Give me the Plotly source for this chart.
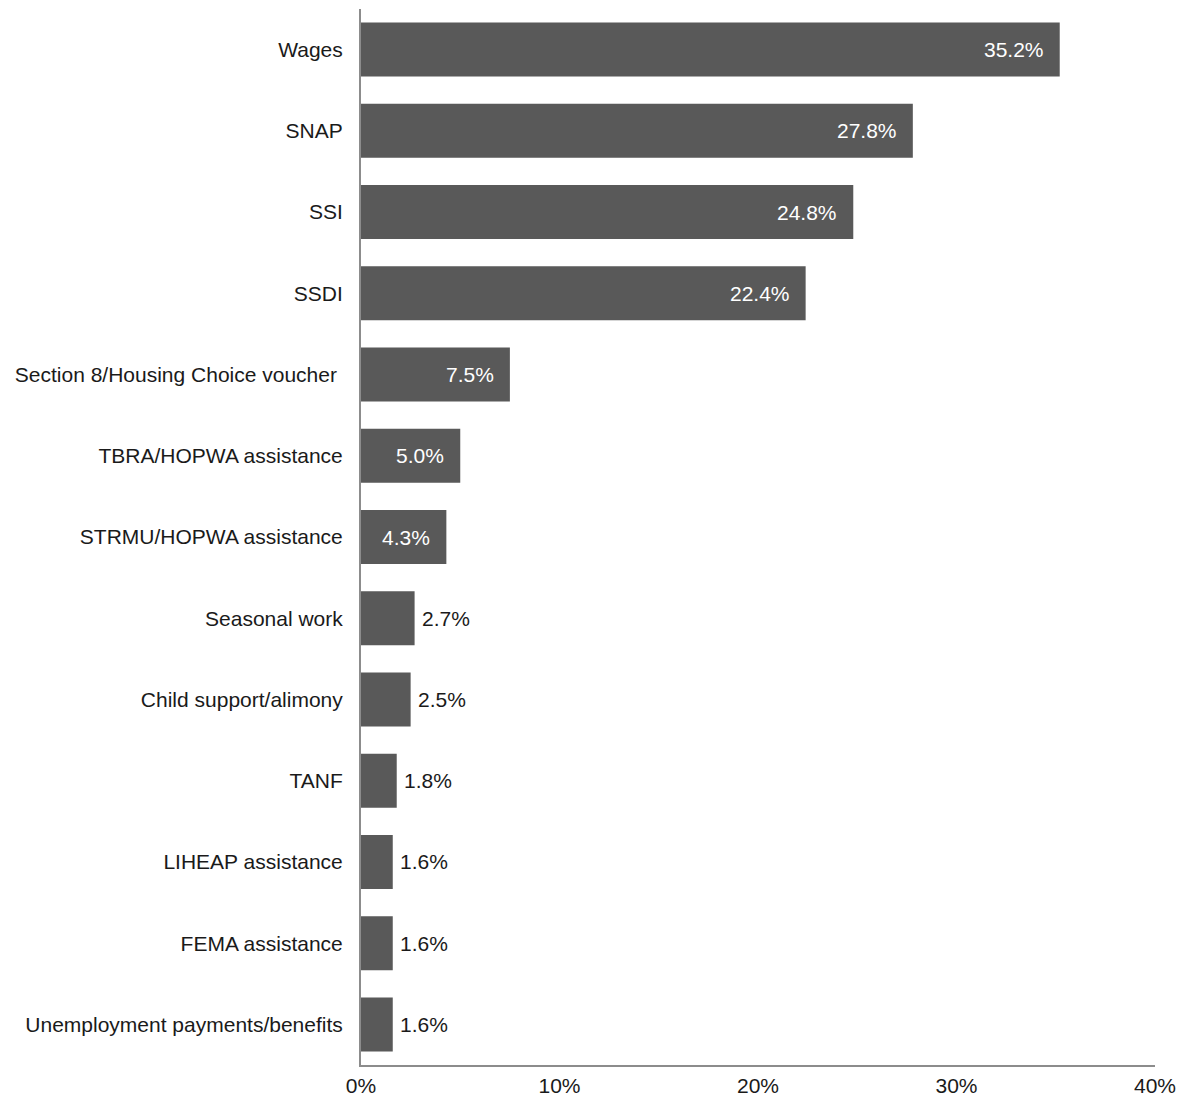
import plotly.graph_objects as go

# Income sources, top to bottom
categories = [
    "Wages",
    "SNAP",
    "SSI",
    "SSDI",
    "Section 8/Housing Choice voucher\u00a0",
    "TBRA/HOPWA assistance",
    "STRMU/HOPWA assistance",
    "Seasonal work",
    "Child support/alimony",
    "TANF",
    "LIHEAP assistance",
    "FEMA assistance",
    "Unemployment payments/benefits",
]
values = [35.2, 27.8, 24.8, 22.4, 7.5, 5.0, 4.3, 2.7, 2.5, 1.8, 1.6, 1.6, 1.6]
x_ticks = [0, 10, 20, 30, 40]
x_tick_labels = ["0%", "10%", "20%", "30%", "40%"]

FONT = "Liberation Sans, Arial, sans-serif"
BAR = "#595959"
AXIS = "#8c8c8c"

fig = go.Figure(
    go.Bar(
        y=categories,
        x=values,
        orientation="h",
        marker=dict(color=BAR, line=dict(width=0)),
        hoverinfo="skip",
    )
)

# Value labels: white inside long bars, dark just past short bars
annotations = []
for cat, v in zip(categories, values):
    inside = v >= 4
    annotations.append(
        dict(
            x=v,
            y=cat,
            xref="x",
            yref="y",
            text=f"{v:.1f}%",
            showarrow=False,
            xanchor="right" if inside else "left",
            xshift=-14 if inside else 5,
            font=dict(family=FONT, size=21, color="#ffffff" if inside else "#1a1a1a"),
        )
    )

fig.update_layout(
    width=1182,
    height=1103,
    margin=dict(l=361, r=27, t=9, b=38),
    paper_bgcolor="white",
    plot_bgcolor="white",
    bargap=0.335,
    showlegend=False,
    annotations=annotations,
    font=dict(family=FONT, size=21, color="#1a1a1a"),
)

fig.update_xaxes(
    range=[0, 40],
    tickvals=x_ticks,
    ticktext=x_tick_labels,
    showgrid=False,
    zeroline=False,
    showline=True,
    linecolor=AXIS,
    linewidth=2,
    ticks="",
    ticklabelstandoff=1,
    automargin=False,
    tickfont=dict(family=FONT, size=21, color="#1a1a1a"),
)

fig.update_yaxes(
    categoryorder="array",
    categoryarray=categories,
    autorange="reversed",
    showgrid=False,
    zeroline=False,
    showline=True,
    linecolor=AXIS,
    linewidth=2,
    ticks="",
    ticklabelstandoff=12,
    automargin=False,
    tickfont=dict(family=FONT, size=21, color="#1a1a1a"),
)

fig.write_html("out.html")
